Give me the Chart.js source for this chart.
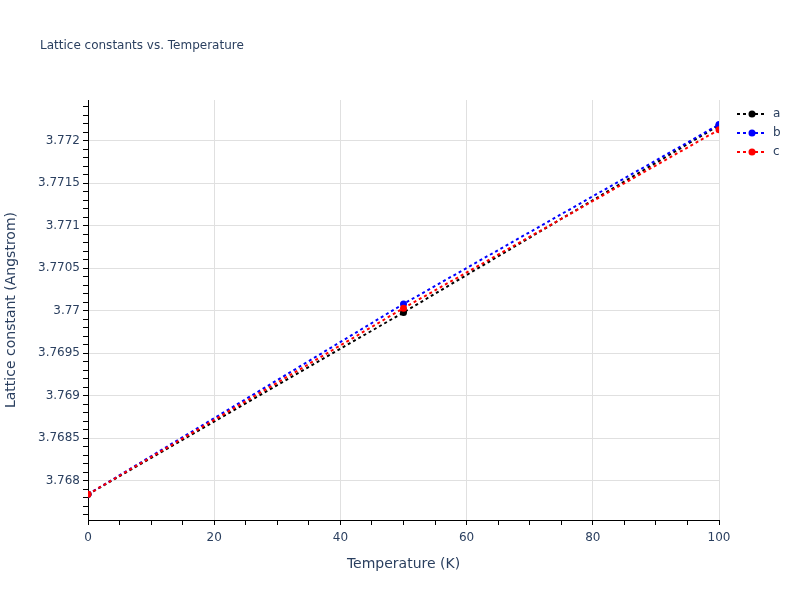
<!DOCTYPE html>
<html>
<head>
<meta charset="utf-8">
<script src="https://cdn.jsdelivr.net/npm/chart.js@4.4.0/dist/chart.umd.min.js"></script>
<style>
  html, body { margin: 0; padding: 0; background: #fff; }
  #wrap { width: 800px; height: 600px; }
</style>
</head>
<body>
<div id="wrap"><canvas id="c" width="800" height="600"></canvas></div>
<script>
const temperatures = [0, 50, 100];
const seriesA = [3.76784, 3.76998, 3.77218];
const seriesB = [3.76784, 3.77008, 3.77219];
const seriesC = [3.76784, 3.77003, 3.77213];
const seriesNames = ['a', 'b', 'c'];
const seriesColors = ['#000000', '#0000ff', '#ff0000'];
const titleText = 'Lattice constants vs. Temperature';
const xTitle = 'Temperature (K)';
const yTitle = 'Lattice constant (Angstrom)';

const FONT = '"DejaVu Sans", Verdana, sans-serif';
const TXT = '#2a3f5f';

function pts(vals) { return temperatures.map((t, i) => ({ x: t, y: vals[i] })); }

const allSeries = [seriesA, seriesB, seriesC];
const datasets = allSeries.map((vals, i) => ({
  label: seriesNames[i],
  data: pts(vals),
  borderColor: seriesColors[i],
  backgroundColor: seriesColors[i],
  borderWidth: 2,
  borderDash: [3, 3],
  pointRadius: 3.5,
  pointBorderWidth: 0,
  pointHoverRadius: 3.5,
  tension: 0,
  order: 3 - i
}));

const customDraw = {
  id: 'customDraw',
  afterDraw(chart) {
    const ctx = chart.ctx;
    ctx.save();
    ctx.fillStyle = TXT;
    ctx.font = '12px ' + FONT;
    ctx.textBaseline = 'middle';
    ctx.textAlign = 'left';
    ctx.fillText(titleText, 40, 46);
    chart.data.datasets.forEach((ds, i) => {
      const y = 114 + i * 19;
      ctx.strokeStyle = ds.borderColor;
      ctx.lineWidth = 2;
      ctx.setLineDash([3, 3]);
      ctx.beginPath();
      ctx.moveTo(737, y);
      ctx.lineTo(767, y);
      ctx.stroke();
      ctx.setLineDash([]);
      ctx.fillStyle = ds.backgroundColor;
      ctx.beginPath();
      ctx.arc(752, y, 3.5, 0, Math.PI * 2);
      ctx.fill();
      ctx.fillStyle = TXT;
      ctx.font = '12px ' + FONT;
      ctx.fillText(ds.label, 773, y);
    });
    ctx.restore();
  }
};

const bg = {
  id: 'bg',
  beforeDraw(chart) {
    const ctx = chart.ctx;
    ctx.save();
    ctx.fillStyle = '#fff';
    ctx.fillRect(0, 0, chart.width, chart.height);
    ctx.restore();
  }
};

function isMult(v, step) {
  const r = v / step;
  return Math.abs(r - Math.round(r)) < 1e-6;
}

new Chart(document.getElementById('c'), {
  type: 'line',
  data: { datasets },
  plugins: [bg, customDraw],
  options: {
    responsive: false,
    animation: false,
    devicePixelRatio: 1,
    layout: { padding: { top: 100, right: 81, left: 0, bottom: 0 } },
    plugins: { legend: { display: false }, title: { display: false }, tooltip: { enabled: false } },
    scales: {
      x: {
        type: 'linear',
        min: 0, max: 100,
        afterFit: s => { s.height = 80; },
        border: { display: true, color: '#000', width: 1 },
        grid: {
          color: c => (c.tick && isMult(c.tick.value, 20) && c.tick.value !== 0) ? '#e0e0e0' : 'rgba(0,0,0,0)',
          tickColor: '#000',
          tickLength: 5,
          drawTicks: true,
          lineWidth: 1
        },
        ticks: {
          stepSize: 5,
          autoSkip: false,
          maxRotation: 0,
          padding: 6,
          color: TXT,
          font: { family: FONT, size: 12 },
          callback: v => isMult(v, 20) ? String(v) : ''
        },
        title: {
          display: true, text: xTitle, color: TXT,
          font: { family: FONT, size: 14 },
          padding: { top: 0, bottom: 27 }
        }
      },
      y: {
        type: 'linear',
        min: 3.767538, max: 3.772479,
        afterFit: s => { s.width = 88; },
        border: { display: true, color: '#000', width: 1 },
        grid: {
          color: c => (c.tick && isMult(c.tick.value, 0.0005)) ? '#e0e0e0' : 'rgba(0,0,0,0)',
          tickColor: '#000',
          tickLength: 5,
          drawTicks: true,
          lineWidth: 1
        },
        ticks: {
          stepSize: 0.0001,
          includeBounds: false,
          autoSkip: false,
          padding: 3,
          color: TXT,
          font: { family: FONT, size: 12 },
          callback: v => isMult(v, 0.0005) ? String(parseFloat(v.toFixed(4))) : ''
        },
        title: {
          display: true, text: yTitle, color: TXT,
          font: { family: FONT, size: 14 },
          padding: { top: 3, bottom: 0 }
        }
      }
    }
  }
});
</script>
</body>
</html>
